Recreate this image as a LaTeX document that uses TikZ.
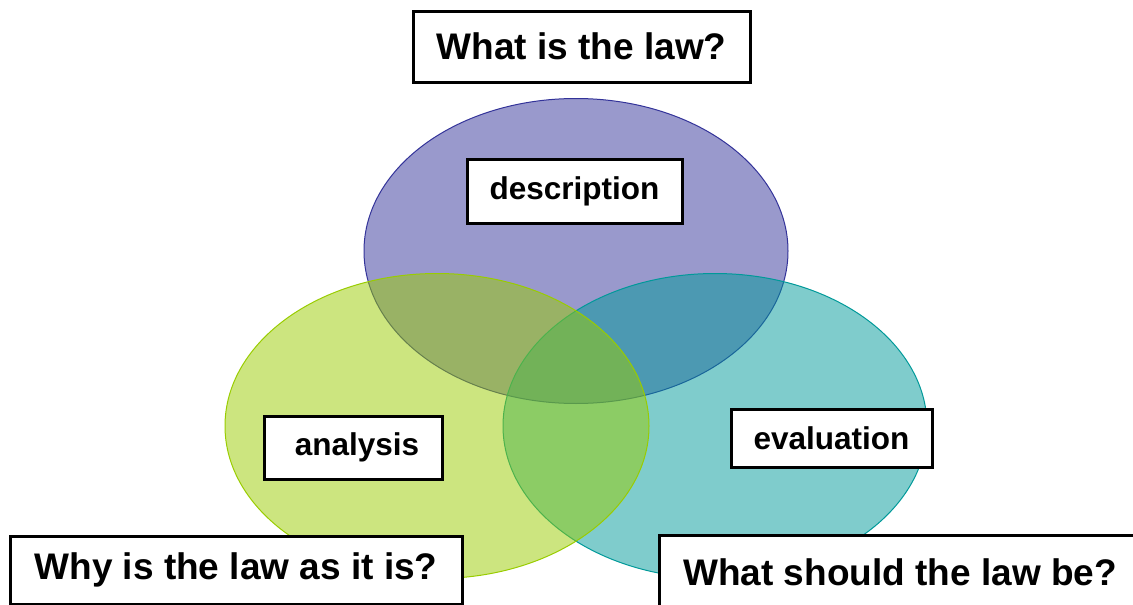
\documentclass[tikz,border=0pt]{standalone}
\usepackage{fontspec}
\setmainfont{Liberation Sans}
\usepackage{xcolor}
\usepackage{tikz}
\usetikzlibrary{shapes.geometric}

\definecolor{lawPurple}{HTML}{333399}
\definecolor{lawGreen}{HTML}{99CC00}
\definecolor{lawTeal}{HTML}{009999}

\begin{document}
\begin{tikzpicture}[x=1pt, y=-1pt]
  % requires: \usetikzlibrary{shapes.geometric}
  \tikzset{
    vennSet/.style={ellipse, draw=#1, fill=#1, fill opacity=0.5, line width=1pt, inner sep=0pt, minimum width=424pt, minimum height=305pt},
    vennLabelBox/.style={draw=black, fill=white, line width=3pt, inner sep=0pt, font=\fontsize{31.5}{36}\selectfont\bfseries},
    vennQuestionBox/.style={draw=black, fill=white, line width=3pt, inner sep=0pt, font=\fontsize{37}{42}\selectfont\bfseries}
  }

  \useasboundingbox (0,0) rectangle (1133,605);

% --- The three sets (green lies over teal, both over purple) ---
  \node[vennSet=lawPurple] (descSet) at (576,251) {};
  \node[vennSet=lawTeal]   (evalSet) at (715,426) {};
  \node[vennSet=lawGreen]  (anaSet)  at (437,426) {};

% --- Set labels ---
  \node[vennLabelBox, minimum width=215pt, minimum height=64pt] (descLabel) at (574.5,191) {description};
  \node[vennLabelBox, minimum width=178pt, minimum height=63pt] (anaLabel) at (353,447.5) {\hspace{8pt}analysis};
  \node[vennLabelBox, minimum width=201pt, minimum height=58pt] (evalLabel) at (831.5,438) {evaluation};

% --- Questions ---
  \node[vennQuestionBox, minimum width=337pt, minimum height=71pt] (lawIs) at (581.5,46.5) {What is the law?};
  \node[vennQuestionBox, minimum width=452pt, minimum height=68pt] (lawWhy) at (236,570) {Why is the law as it is?};
  \node[vennQuestionBox, minimum width=482pt, minimum height=78pt] (lawShould) at (900,574) {\raisebox{4pt}{What should the law be?}};

\end{tikzpicture}
\end{document}
